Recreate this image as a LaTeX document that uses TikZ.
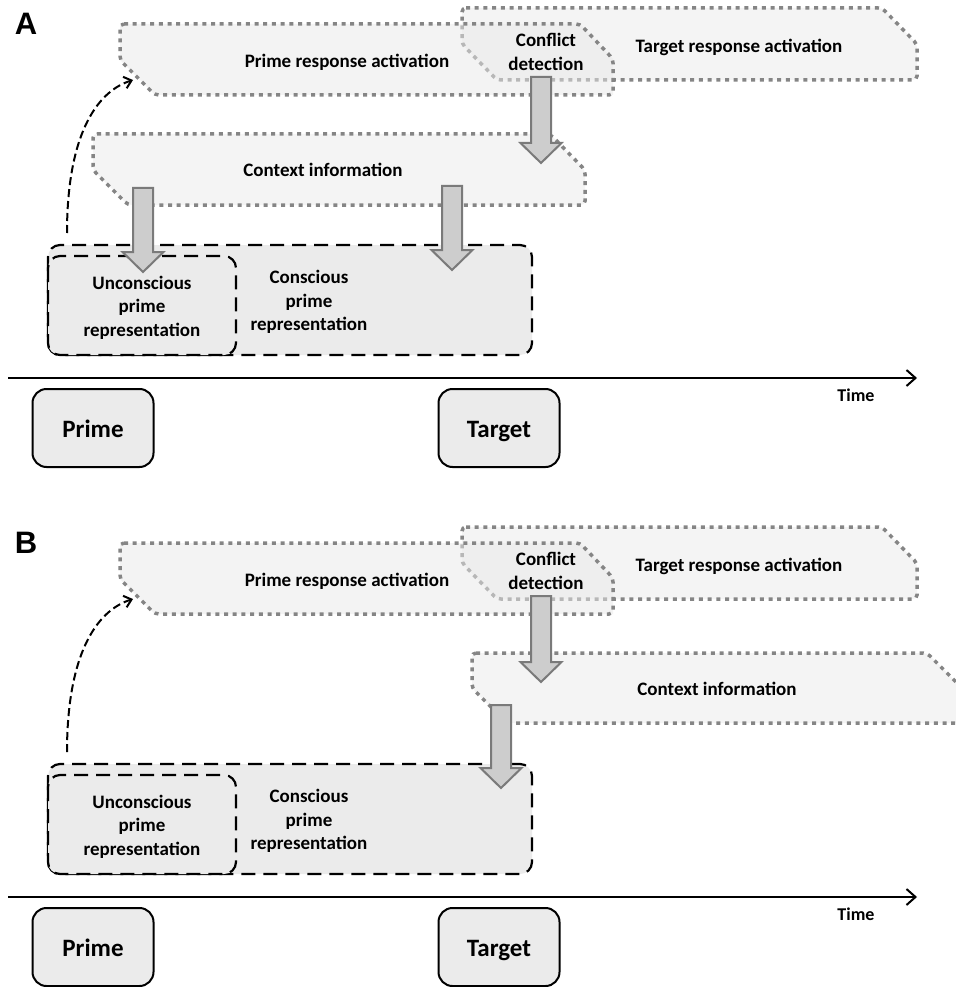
\documentclass[tikz,border=0pt]{standalone}
\usepackage{fontspec}
\setmainfont{Carlito}
\newfontfamily\letterfont{Liberation Sans}
\usetikzlibrary{arrows.meta,calc}
\definecolor{dotgray}{HTML}{858585}
\definecolor{actfill}{HTML}{F4F4F4}
\definecolor{actfillb}{HTML}{E9E9E9}
\definecolor{boxfill}{HTML}{EBEBEB}
\definecolor{arrfill}{HTML}{CDCDCD}
\definecolor{arrline}{HTML}{7A7A7A}
\tikzset{
 actline/.style={draw=dotgray, line width=3.5pt, dash pattern=on 4pt off 4.7pt, rounded corners=4pt},
 actshape/.style={actline, fill=actfill},
 repbox/.style={draw=black, line width=2.2pt, dash pattern=on 14pt off 8pt, fill=boxfill, rounded corners=12pt},
 stimbox/.style={draw=black, line width=2pt, fill=boxfill, rounded corners=14pt, minimum width=121pt, minimum height=78pt, text height=22pt, text depth=4pt, font=\bfseries\fontsize{25}{29}\selectfont},
 lbl/.style={font=\bfseries\fontsize{19}{23.5}\selectfont, align=center, inner sep=0pt},
 timelbl/.style={font=\bfseries\fontsize{18}{22}\selectfont, inner sep=0pt},
 barrow/.style={draw=arrline, line width=2pt, fill=arrfill, line join=miter},
 curvearrow/.style={draw=black, line width=2pt, dash pattern=on 8pt off 4pt, -{Straight Barb[length=7pt,width=12pt]}},
 timeaxis/.style={draw=black, line width=2pt, -{Straight Barb[length=9pt,width=16pt]}},
 letter/.style={font=\letterfont\bfseries\fontsize{31}{35}\selectfont, inner sep=0pt},
}
\newcommand\blockarrow[2]{%
 \draw[barrow] let \p1=(#1), \p2=(#2) in
  (\x1-10pt,\y1) -- (\x1+10pt,\y1) -- (\x1+10pt,\y2+20pt) -- (\x1+20.5pt,\y2+20pt)
  -- (\x2,\y2) -- (\x1-20.5pt,\y2+20pt) -- (\x1-10pt,\y2+20pt) -- cycle;}
% common upper activation shapes
\newcommand\activations[1]{%
 \draw[actshape] (462,8) -- (882,8) -- (917,44) -- (917,80) -- (497,80) -- (462,44) -- cycle;
 \fill[actfillb, fill opacity=0.5] (120,24) -- (580,24) -- (613,59) -- (613,95) -- (155,95) -- (120,60) -- cycle;
 \draw[actline] (120,24) -- (580,24) -- (613,59) -- (613,95) -- (155,95) -- (120,60) -- cycle;
}
\newcommand\repboxes[1]{%
 \draw[repbox] (48,245) rectangle (532,355);
 \draw[repbox] (48,256) rectangle (236,355);
 \node[lbl] (unc#1) at (142,307.5) {Unconscious\\prime\\representation};
 \node[lbl] (con#1) at (309,302) {Conscious\\prime\\representation};
}
\newcommand\timeline[1]{%
 \coordinate (ax0#1) at (8,378);
 \coordinate (ax1#1) at (917,378);
 \draw[timeaxis] (ax0#1) -- (ax1#1);
 \node[timelbl] (time#1) at (856,395) {Time};
 \node[stimbox] (prime#1) at (93,428) {Prime};
 \node[stimbox] (target#1) at (499,428) {Target};
}
\begin{document}
\begin{tikzpicture}[x=1pt,y=-1pt]
\useasboundingbox[fill=white] (0,0) rectangle (955,987);
% ================= Panel A =================
\begin{scope}
 \activations{A}
 \draw[actshape] (93,134) -- (550,134) -- (585,170) -- (585,205) -- (128,205) -- (93,170) -- cycle;
 \repboxes{A}
 \coordinate (csA) at (67,233);
 \coordinate (ceA) at (133,80);
 \draw[curvearrow] (csA) .. controls +(0,-95) and +(-38,12) .. (ceA);
 \coordinate (b1sA) at (541,77);  \coordinate (b1eA) at (541,163);
 \coordinate (b2sA) at (143,188); \coordinate (b2eA) at (143,272);
 \coordinate (b3sA) at (452,186); \coordinate (b3eA) at (452,270);
 \blockarrow{b1sA}{b1eA}
 \blockarrow{b2sA}{b2eA}
 \blockarrow{b3sA}{b3eA}
 \node[lbl] (praA) at (347,62) {Prime response activation};
 \node[lbl] (cdA) at (546,52) {Conflict\\detection};
 \node[lbl] (traA) at (739,47) {Target response activation};
 \node[lbl] (ctxA) at (323,170) {Context information};
 \timeline{A}
 \node[letter] (letA) at (26,24) {A};
\end{scope}
% ================= Panel B =================
\begin{scope}[yshift=-519pt]
 \activations{B}
 \draw[actshape] (472,134) -- (927,134) -- (962,169) -- (962,204) -- (507,204) -- (472,169) -- cycle;
 \repboxes{B}
 \coordinate (csB) at (67,233);
 \coordinate (ceB) at (133,80);
 \draw[curvearrow] (csB) .. controls +(0,-95) and +(-38,12) .. (ceB);
 \coordinate (b1sB) at (541,77);  \coordinate (b1eB) at (541,163);
 \coordinate (b2sB) at (501,186); \coordinate (b2eB) at (501,269);
 \blockarrow{b1sB}{b1eB}
 \blockarrow{b2sB}{b2eB}
 \node[lbl] (praB) at (347,62) {Prime response activation};
 \node[lbl] (cdB) at (546,52) {Conflict\\detection};
 \node[lbl] (traB) at (739,47) {Target response activation};
 \node[lbl] (ctxB) at (717,170) {Context information};
 \timeline{B}
 \node[letter] (letB) at (26,24) {B};
\end{scope}
\end{tikzpicture}
\end{document}
